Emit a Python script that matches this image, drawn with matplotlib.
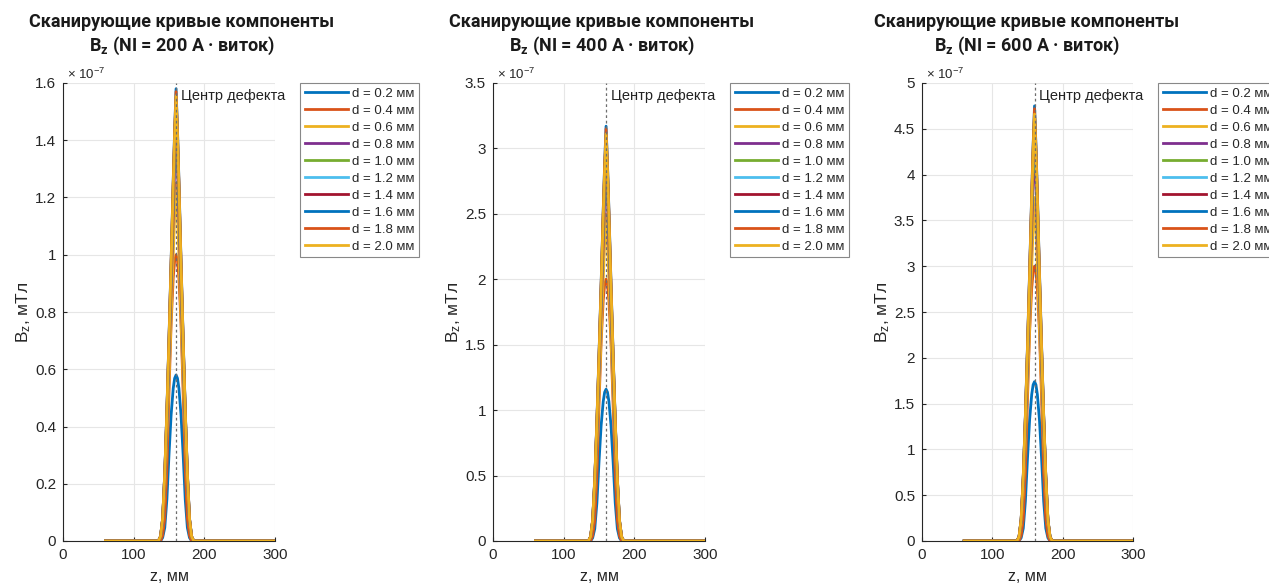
import matplotlib
matplotlib.use("Agg")
import matplotlib.pyplot as plt
from matplotlib.ticker import FuncFormatter, MultipleLocator
import numpy as np

# ---------------- data (values in units of 1e-7 mT) ----------------
d_labels = ["d = 0.2 мм", "d = 0.4 мм", "d = 0.6 мм", "d = 0.8 мм", "d = 1.0 мм",
            "d = 1.2 мм", "d = 1.4 мм", "d = 1.6 мм", "d = 1.8 мм", "d = 2.0 мм"]
ni_values = [200, 400, 600]

z_mm = [60, 135, 138, 141, 144, 147, 150, 153, 156, 158, 160,
        162, 164, 167, 170, 173, 176, 179, 182, 185, 300]
shape_broad = [0, 0, 0, 0.02, 0.08, 0.25, 0.52, 0.76, 0.92, 0.98, 1,
               0.98, 0.92, 0.76, 0.52, 0.25, 0.08, 0.02, 0, 0, 0]
shape_sharp = [0, 0, 0.01, 0.05, 0.15, 0.29, 0.45, 0.62, 0.80, 0.91, 1,
               0.91, 0.80, 0.62, 0.45, 0.29, 0.15, 0.05, 0.01, 0, 0]
shape_of_series = ["broad", "broad", "sharp", "sharp", "sharp",
                   "sharp", "sharp", "sharp", "sharp", "sharp"]

peaks_200 = [0.58, 1.00, 1.25, 1.43, 1.50, 1.53, 1.55, 1.58, 1.57, 1.555]
peaks_400 = [1.16, 2.00, 2.50, 2.86, 3.00, 3.06, 3.10, 3.17, 3.15, 3.11]
peaks_600 = [1.74, 3.00, 3.75, 4.30, 4.50, 4.60, 4.65, 4.75, 4.72, 4.66]
peaks_all = [peaks_200, peaks_400, peaks_600]

y_max = [1.6, 3.5, 5.0]
y_step = [0.2, 0.5, 0.5]
defect_center = 160

colors = ["#0072BD", "#D95319", "#EDB120", "#7E2F8E", "#77AC30",
          "#4DBEEE", "#A2142F", "#0072BD", "#D95319", "#EDB120"]

# ---------------- figure ----------------
W, H = 1269, 584
fig = plt.figure(figsize=(W / 100, H / 100), dpi=100)
plt.rcParams['font.family'] = ['Liberation Sans', 'DejaVu Sans']
plt.rcParams['mathtext.default'] = 'regular'

axes_left_px = [63, 493, 922]
axes_width_px = [212, 212, 211]
title_center_px = [182, 602, 1027]
ax_top_px, ax_bot_px = 83, 541

shapes = {"broad": np.array(shape_broad), "sharp": np.array(shape_sharp)}

fmt = FuncFormatter(lambda v, p: "%g" % round(v, 6))
title_font = ["Roboto", "DejaVu Sans"]

for i in range(3):
    l = axes_left_px[i] / W
    b = (H - ax_bot_px) / H
    w = axes_width_px[i] / W
    h = (ax_bot_px - ax_top_px) / H
    ax = fig.add_axes([l, b, w, h])

    for j, lab in enumerate(d_labels):
        y = peaks_all[i][j] * shapes[shape_of_series[j]]
        ax.plot(z_mm, y, color=colors[j], lw=2.0, label=lab, zorder=3)

    ax.axvline(defect_center, color="#6e6e6e", ls=(0, (2.2, 2.2)), lw=0.9, zorder=4)
    ax.text(167, 0.972, "Центр дефекта", transform=ax.get_xaxis_transform(),
            fontsize=10.5, va="center", ha="left", color="#222222")

    ax.set_xlim(0, 300)
    ax.set_ylim(0, y_max[i])
    ax.xaxis.set_major_locator(MultipleLocator(100))
    ax.yaxis.set_major_locator(MultipleLocator(y_step[i]))
    ax.yaxis.set_major_formatter(fmt)
    ax.xaxis.set_major_formatter(fmt)
    ax.grid(True, color="#e6e6e6", lw=0.8, zorder=0)
    ax.set_axisbelow(True)
    for s in ["top", "right"]:
        ax.spines[s].set_visible(False)
    for s in ["left", "bottom"]:
        ax.spines[s].set_color("#262626")
        ax.spines[s].set_linewidth(0.8)
    ax.tick_params(direction="in", length=3, width=0.8, colors="#262626",
                   labelsize=11, pad=5, labelcolor="#262626")

    ax.set_xlabel("z, мм", fontsize=11.5, color="#262626")
    ax.xaxis.set_label_coords(0.5, -0.062)
    ax.set_ylabel("B$_\\mathregular{z}$, мТл", fontsize=12.5, color="#262626")
    ax.yaxis.set_label_coords(-0.14, 0.5)

    fig.text((axes_left_px[i] + 4) / W, 1 - 74 / H, "× 10$^{-7}$", fontsize=9.5,
             ha="left", va="center", color="#262626")

    leg = ax.legend(loc="upper left",
                    bbox_to_anchor=((axes_left_px[i] + axes_width_px[i] + 25) / W, 1 - ax_top_px / H),
                    bbox_transform=fig.transFigure, borderaxespad=0, fontsize=9.5,
                    handlelength=3.3, handletextpad=0.3, labelspacing=0.36,
                    borderpad=0.35, fancybox=False, framealpha=1,
                    edgecolor="#888888")
    leg.get_frame().set_linewidth(0.8)
    for t in leg.get_texts():
        t.set_color("#262626")

    fig.text(title_center_px[i] / W, 1 - 22 / H, "Сканирующие кривые компоненты",
             fontsize=13, fontweight="bold", family=title_font,
             ha="center", va="center", color="#1a1a1a")
    fig.text(title_center_px[i] / W, 1 - 46 / H,
             "B$_\\mathregular{z}$ (NI = %d A · виток)" % ni_values[i],
             fontsize=13, fontweight="bold", family=title_font,
             ha="center", va="center", color="#1a1a1a")

fig.savefig("out.png", dpi=100)
